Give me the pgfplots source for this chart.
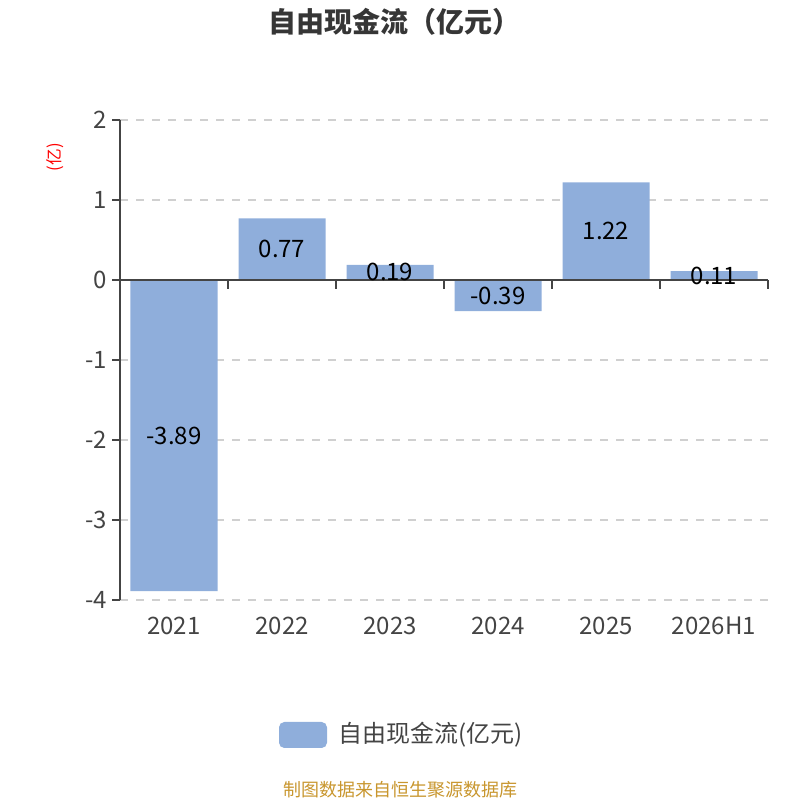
\documentclass[border=0pt]{standalone}
\usepackage{pgfplots}
\pgfplotsset{compat=1.18}
\usepackage{fontspec}
\setmainfont{Noto Sans CJK SC}
\definecolor{barc}{RGB}{143,174,219}
\definecolor{txt}{RGB}{68,68,68}
\definecolor{gridc}{RGB}{208,208,208}
\definecolor{src}{RGB}{200,150,46}
\begin{document}
\begin{tikzpicture}
\useasboundingbox (0pt,0pt) rectangle (600pt,600pt);
\begin{axis}[
  at={(90pt,150pt)}, anchor=south west,
  width=486pt, height=360pt, scale only axis,
  xmin=-0.5, xmax=5.5, ymin=-4, ymax=2,
  axis x line*=bottom, axis y line*=left,
  x axis line style={draw=none},
  y axis line style={draw=txt, line width=1.1pt},
  xtick={0,1,2,3,4,5},
  xticklabels={2021,2022,2023,2024,2025,2026H1},
  major x tick style={draw=none},
  ytick={-4,-3,-2,-1,0,1,2},
  yticklabels={-4,-3,-2,-1,0,1,2},
  ytick style={draw=txt, line width=1.1pt},
  tick align=outside, major tick length=6pt,
  ymajorgrids, grid style={gridc, dash pattern=on 6pt off 6pt, line width=1.2pt},
  ticklabel style={font=\fontsize{18}{20}\selectfont, text=txt},
  xticklabel style={yshift=-3pt},
  /pgf/number format/assume math mode=true,
  clip=false,
]
\addplot[ybar, bar width=65.25pt, bar shift=0pt, fill=barc, draw=none]
  coordinates {(0,-3.89) (1,0.77) (2,0.19) (3,-0.39) (4,1.22) (5,0.11)};
\draw[txt, line width=1.1pt] (axis cs:-0.5,0) -- (axis cs:5.5,0);
\draw[txt, line width=1.1pt] (axis cs:0.5,0) -- ([yshift=-6.5pt]axis cs:0.5,0);
\draw[txt, line width=1.1pt] (axis cs:1.5,0) -- ([yshift=-6.5pt]axis cs:1.5,0);
\draw[txt, line width=1.1pt] (axis cs:2.5,0) -- ([yshift=-6.5pt]axis cs:2.5,0);
\draw[txt, line width=1.1pt] (axis cs:3.5,0) -- ([yshift=-6.5pt]axis cs:3.5,0);
\draw[txt, line width=1.1pt] (axis cs:4.5,0) -- ([yshift=-6.5pt]axis cs:4.5,0);
\draw[txt, line width=1.1pt] (axis cs:5.5,0) -- ([yshift=-6.5pt]axis cs:5.5,0);
\node[font=\fontsize{18}{20}\selectfont, text=black] at (axis cs:0,-1.945) {-3.89};
\node[font=\fontsize{18}{20}\selectfont, text=black] at (axis cs:1,0.385) {0.77};
\node[font=\fontsize{18}{20}\selectfont, text=black] at (axis cs:2,0.095) {0.19};
\node[font=\fontsize{18}{20}\selectfont, text=black] at (axis cs:3,-0.195) {-0.39};
\node[font=\fontsize{18}{20}\selectfont, text=black] at (axis cs:4,0.61) {1.22};
\node[font=\fontsize{18}{20}\selectfont, text=black] at (axis cs:5,0.055) {0.11};
\end{axis}
\node[font=\fontsize{21}{24}\selectfont\bfseries, text=txt!80!black] at (295.5pt,583.5pt) {自由现金流（亿元）};
\node[font=\fontsize{12.5}{14}\selectfont, text=red, rotate=90] at (41.25pt,482pt) {(亿)};
\fill[barc, rounded corners=4pt] (209.25pt,39pt) rectangle (245.25pt,58.5pt);
\node[anchor=west, font=\fontsize{18}{20}\selectfont, text=txt] at (250pt,48.75pt) {自由现金流(亿元)};
\node[font=\fontsize{13.5}{15}\selectfont, text=src] at (300pt,7.5pt) {制图数据来自恒生聚源数据库};
\end{tikzpicture}
\end{document}
